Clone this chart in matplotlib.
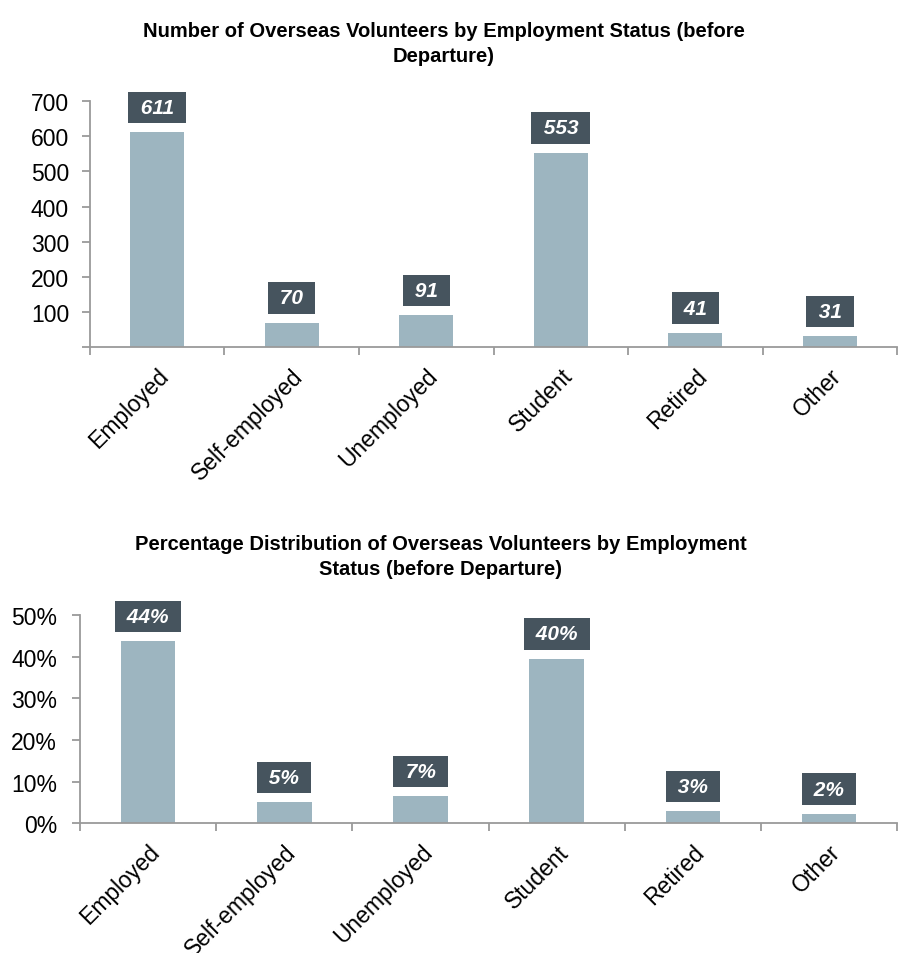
import numpy as np
import matplotlib
matplotlib.use("Agg")
import matplotlib.pyplot as plt

plt.rcParams['font.family'] = ['Liberation Sans', 'DejaVu Sans']

categories = ["Employed", "Self-employed", "Unemployed", "Student", "Retired", "Other"]
counts = [611, 70, 91, 553, 41, 31]
count_ticks = [0, 100, 200, 300, 400, 500, 600, 700]
pct_ticks = [0, 10, 20, 30, 40, 50]

title_top = "Number of Overseas Volunteers by Employment Status (before\nDeparture)"
title_bottom = "Percentage Distribution of Overseas Volunteers by Employment\nStatus (before Departure)"

bar_color = "#9db5c0"
box_color = "#46545e"
axis_color = "#9a9a9a"

pct = np.array(counts) / sum(counts) * 100


def dibujar(ax, valores, etiquetas, ticks, ticklabels, pad_y):
    x = np.arange(len(categories))
    ax.bar(x, valores, width=0.4, color=bar_color, zorder=2)
    for xi, v, t in zip(x, valores, etiquetas):
        ax.annotate(" " + t + " ", (xi, v), xytext=(0, 11), textcoords="offset points",
                    ha="center", va="bottom", color="white", fontsize=15,
                    fontweight="bold", fontstyle="italic",
                    bbox=dict(boxstyle="square,pad=0.3", fc=box_color, ec="none"))
    for s in ["top", "right"]:
        ax.spines[s].set_visible(False)
    for s in ["left", "bottom"]:
        ax.spines[s].set_color(axis_color)
        ax.spines[s].set_linewidth(1.3)
    ax.set_xlim(-0.5, len(categories) - 0.5)
    ax.set_xticks(np.arange(len(categories) + 1) - 0.5)
    ax.set_xticklabels([])
    ax.set_xticks(x, minor=True)
    ax.set_xticklabels(categories, minor=True, rotation=45, ha="right",
                       rotation_mode="anchor", fontsize=16.5)
    ax.tick_params(axis="x", which="major", length=6, width=1.3, color=axis_color, direction="out")
    ax.tick_params(axis="x", which="minor", length=0, pad=12)
    ax.set_yticks(ticks)
    ax.set_yticklabels(ticklabels, fontsize=16.5)
    ax.tick_params(axis="y", length=6, width=1.3, color=axis_color, direction="out", pad=pad_y)
    ax.set_ylim(ticks[0], ticks[-1])


fig = plt.figure(figsize=(8.99, 9.54), dpi=100)

ax1 = fig.add_axes([0.1, 0.635, 0.898, 0.258])
dibujar(ax1, counts, [str(c) for c in counts], count_ticks,
        [""] + [str(t) for t in count_ticks[1:]], 9)

ax2 = fig.add_axes([0.089, 0.136, 0.909, 0.218])
dibujar(ax2, pct, ["%d%%" % round(p) for p in pct], pct_ticks,
        ["%d%%" % t for t in pct_ticks], 10.5)

fig.text(0.494, 0.954, title_top, ha="center", va="center", fontsize=14.5,
         fontweight="bold", linespacing=1.4)
fig.text(0.49, 0.416, title_bottom, ha="center", va="center", fontsize=14.5,
         fontweight="bold", linespacing=1.4)

fig.savefig("out.png", dpi=100)
